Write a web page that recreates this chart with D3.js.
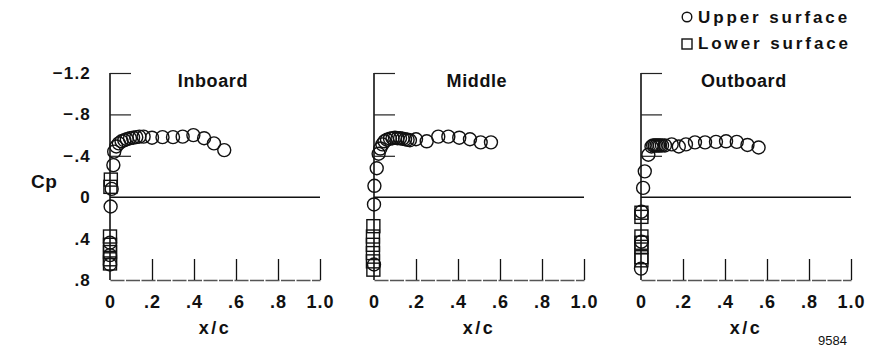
<!DOCTYPE html>
<html>
<head>
<meta charset="utf-8">
<script src="https://cdn.jsdelivr.net/npm/d3@7"></script>
<style>
  body { margin: 0; background: #fff; }
  svg { display: block; }
  text { font-family: "Liberation Sans", Arial, Helvetica, sans-serif; fill: #111; }
  .bold { font-weight: bold; }
</style>
</head>
<body>
<div id="chart"></div>
<script>
// stations, [x/c, Cp]
const panelNames = ['Inboard', 'Middle', 'Outboard'];

const inboardUpper = [
  [0.0, 0.65], [0.0, 0.56], [0.0, 0.44], [0.003, 0.09], [0.008, -0.08], [0.016, -0.31],
  [0.02, -0.44], [0.03, -0.49], [0.042, -0.52], [0.055, -0.54], [0.068, -0.55], [0.08, -0.56],
  [0.095, -0.57], [0.11, -0.575], [0.125, -0.58], [0.14, -0.585], [0.16, -0.585], [0.2, -0.575],
  [0.25, -0.58], [0.3, -0.58], [0.346, -0.585], [0.397, -0.6], [0.448, -0.57], [0.495, -0.52],
  [0.544, -0.455]
];
const inboardLower = [
  [0.004, -0.17], [0.002, -0.1], [0.0, 0.38], [0.0, 0.46], [0.0, 0.53], [0.0, 0.6], [0.0, 0.64]
];

const middleUpper = [
  [0.0, 0.65], [0.0, 0.07], [0.002, -0.11], [0.013, -0.28], [0.022, -0.42], [0.03, -0.47],
  [0.04, -0.51], [0.05, -0.54], [0.062, -0.555], [0.076, -0.566], [0.088, -0.57], [0.1, -0.575],
  [0.112, -0.57], [0.124, -0.57], [0.136, -0.565], [0.148, -0.56], [0.16, -0.555], [0.171, -0.55],
  [0.2, -0.56], [0.251, -0.54], [0.306, -0.585], [0.354, -0.585], [0.406, -0.575], [0.457, -0.56],
  [0.508, -0.53], [0.557, -0.53]
];
const middleLower = [
  [-0.003, 0.28], [-0.005, 0.38], [-0.005, 0.46], [-0.005, 0.54], [-0.005, 0.62], [-0.003, 0.7]
];

const outboardUpper = [
  [0.0, 0.69], [0.002, 0.43], [0.002, 0.14], [0.01, -0.09], [0.018, -0.25], [0.035, -0.41],
  [0.05, -0.49], [0.058, -0.5], [0.066, -0.5], [0.074, -0.5], [0.082, -0.5], [0.09, -0.5],
  [0.1, -0.5], [0.114, -0.5], [0.146, -0.51], [0.18, -0.49], [0.214, -0.51], [0.257, -0.53],
  [0.305, -0.53], [0.357, -0.535], [0.405, -0.54], [0.456, -0.535], [0.507, -0.505], [0.56, -0.48]
];
const outboardLower = [
  [0.002, 0.15], [0.002, 0.19], [0.002, 0.38], [0.002, 0.44], [0.002, 0.48], [0.002, 0.58], [0.002, 0.61]
];

const upperSets = [inboardUpper, middleUpper, outboardUpper];
const lowerSets = [inboardLower, middleLower, outboardLower];

const cpTicks = [-1.2, -0.8, -0.4, 0, 0.4, 0.8];
const xcTicks = [0, 0.2, 0.4, 0.6, 0.8, 1.0];
const legendLabels = ['Upper surface', 'Lower surface'];
const figureNumber = '9584';

const width = 870, height = 347;
const panelLeft = [110, 374, 641];
const panelWidth = 210;

const svg = d3.select('#chart').append('svg')
  .attr('width', width)
  .attr('height', height);

const y = d3.scaleLinear().domain([-1.2, 0.8]).range([73, 280]);

const fmt = v => {
  if (v === 0) return '0';
  const s = d3.format('.1f')(Math.abs(v)).replace(/^0/, '');
  return (v < 0 ? '\u2212' : '') + s;
};

panelNames.forEach((name, i) => {
  const x = d3.scaleLinear().domain([0, 1]).range([panelLeft[i], panelLeft[i] + panelWidth]);
  const g = svg.append('g');

  // y axis spine
  g.append('line')
    .attr('x1', x(0)).attr('x2', x(0))
    .attr('y1', y(-1.2)).attr('y2', y(0.8))
    .attr('stroke', '#111').attr('stroke-width', 1.6);

  // upper ticks pointing right
  const yt = g.append('g')
    .attr('transform', `translate(${x(0)},0)`)
    .call(d3.axisRight(y).tickValues([-1.2, -0.8, -0.4]).tickSize(21).tickFormat(''));
  yt.select('.domain').remove();
  yt.selectAll('line').attr('stroke', '#222').attr('stroke-width', 1.2);

  // zero line
  g.append('line')
    .attr('x1', x(0)).attr('x2', x(1))
    .attr('y1', y(0)).attr('y2', y(0))
    .attr('stroke', '#111').attr('stroke-width', 1.6);

  // bottom axis with ticks pointing up
  const xt = g.append('g')
    .attr('transform', `translate(0,${y(0.8)})`)
    .call(d3.axisTop(x).tickValues(xcTicks.slice(1)).tickSize(21).tickSizeOuter(0).tickFormat(''));
  xt.select('.domain').attr('stroke', '#555').attr('stroke-width', 1.3).attr('stroke-dasharray', '14,1.5');
  xt.selectAll('line').attr('stroke', '#111').attr('stroke-width', 1.3);

  // tick labels
  const xl = g.append('g')
    .attr('transform', `translate(0,${y(0.8)})`)
    .call(d3.axisBottom(x).tickValues(xcTicks).tickSize(0).tickPadding(15)
      .tickFormat(v => v === 0 ? '0' : (v === 1 ? '1.0' : fmt(v))));
  xl.select('.domain').remove();
  xl.selectAll('text')
    .attr('class', 'bold')
    .style('font-size', '18px')
    .style('letter-spacing', '1px')
    .attr('fill', '#111');

  g.append('text')
    .attr('class', 'bold')
    .attr('x', x(0.5)).attr('y', 334)
    .attr('text-anchor', 'middle')
    .style('font-size', '18px')
    .style('letter-spacing', '2.5px')
    .text('x/c');

  g.append('text')
    .attr('class', 'bold')
    .attr('x', x(0.49)).attr('y', 87)
    .attr('text-anchor', 'middle')
    .style('font-size', '18px')
    .style('letter-spacing', '0.6px')
    .text(name);

  // lower surface squares
  const s = 13;
  g.selectAll('rect.lower')
    .data(lowerSets[i])
    .join('rect')
    .attr('class', 'lower')
    .attr('x', d => x(d[0]) - s / 2)
    .attr('y', d => y(d[1]) - s / 2)
    .attr('width', s).attr('height', s)
    .attr('fill', 'none')
    .attr('stroke', '#111').attr('stroke-width', 1.4);

  // upper surface circles
  g.selectAll('circle.upper')
    .data(upperSets[i])
    .join('circle')
    .attr('class', 'upper')
    .attr('cx', d => x(d[0]))
    .attr('cy', d => y(d[1]))
    .attr('r', 6.5)
    .attr('fill', 'none')
    .attr('stroke', '#111').attr('stroke-width', 1.4);

  if (i === 0) {
    const yl = g.append('g')
      .attr('transform', `translate(${x(0)},0)`)
      .call(d3.axisLeft(y).tickValues(cpTicks).tickSize(0).tickPadding(19).tickFormat(fmt));
    yl.select('.domain').remove();
    yl.selectAll('text')
      .attr('class', 'bold')
      .style('font-size', '17px')
      .style('letter-spacing', '1.2px')
      .attr('fill', '#111');
  }
});

svg.append('text')
  .attr('class', 'bold')
  .attr('x', 31).attr('y', 188)
  .style('font-size', '19px')
  .style('letter-spacing', '0.5px')
  .text('Cp');

// legend
const legend = svg.append('g').attr('transform', 'translate(687,17)');
legendLabels.forEach((lab, k) => {
  const row = legend.append('g').attr('transform', `translate(0,${k * 26})`);
  if (k === 0) {
    row.append('circle').attr('r', 4.8).attr('fill', 'none').attr('stroke', '#111').attr('stroke-width', 1.4);
  } else {
    row.append('rect').attr('x', -5).attr('y', -4).attr('width', 10).attr('height', 10)
      .attr('fill', 'none').attr('stroke', '#111').attr('stroke-width', 1.4);
  }
  row.append('text')
    .attr('class', 'bold')
    .attr('x', 11).attr('y', 6)
    .style('font-size', '17px')
    .style('letter-spacing', '2.9px')
    .text(lab);
});

svg.append('text')
  .attr('x', 818).attr('y', 345)
  .style('font-size', '13px')
  .text(figureNumber);
</script>
</body>
</html>
